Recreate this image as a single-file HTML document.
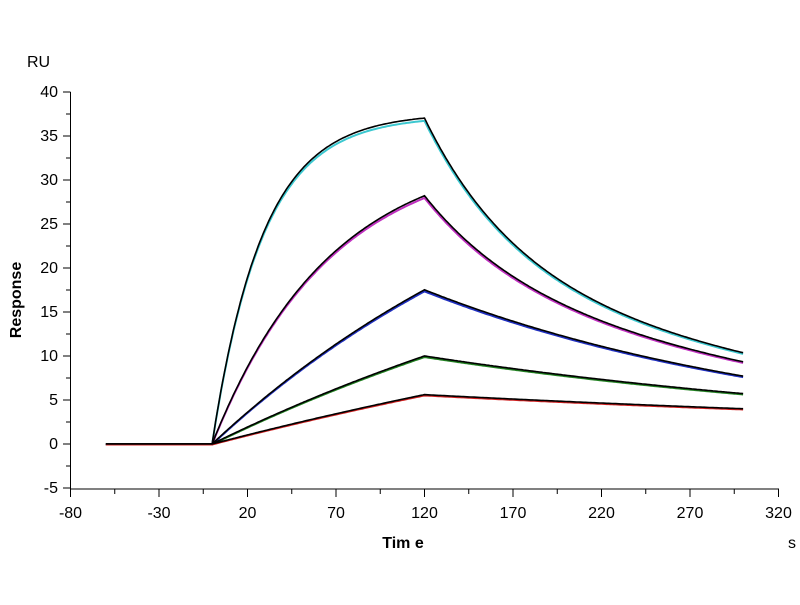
<!DOCTYPE html>
<html><head><meta charset="utf-8"><style>
body{margin:0;background:#fff}
svg{font-family:"Liberation Sans",Arial,sans-serif}
</style></head><body>
<svg id="s" width="800" height="600" xmlns="http://www.w3.org/2000/svg">
<rect width="800" height="600" fill="#fff"/>
<g id="ax" stroke="#000" stroke-width="1" fill="none"></g>
<g id="lbl" font-size="16" fill="#000"></g>
<text x="27" y="67" font-size="16">RU</text>
<text x="21" y="300" font-size="16" font-weight="bold" transform="rotate(-90 21 300)" text-anchor="middle">Response</text>
<text x="403" y="548" font-size="16" font-weight="bold" text-anchor="middle">Tim e</text>
<text x="788" y="548" font-size="16">s</text>
<g id="cur" fill="none"></g>
</svg>
<script>
var NS="http://www.w3.org/2000/svg";
function X(t){return 70.5+(t+80)*1.77;}
function Y(v){return 444-v*8.8;}
function el(p,n,a){var e=document.createElementNS(NS,n);for(var k in a)e.setAttribute(k,a[k]);p.appendChild(e);return e;}
var ax=document.getElementById('ax'),lbl=document.getElementById('lbl'),cur=document.getElementById('cur');
el(ax,'line',{x1:70.5,y1:92,x2:70.5,y2:489});
el(ax,'line',{x1:70.5,y1:489,x2:779,y2:489});
for(var v=-5;v<=40;v+=2.5){var maj=(v%5==0);el(ax,'line',{x1:maj?63:66,y1:Y(v),x2:70.5,y2:Y(v)});
 if(maj){var t=el(lbl,'text',{x:58,y:Y(v)+5,'text-anchor':'end'});t.textContent=v;}}
for(var t=-80;t<=320;t+=25){var maj=((t+80)%50==0);el(ax,'line',{x1:X(t),y1:489,x2:X(t),y2:maj?497:494});
 if(maj){var tx=el(lbl,'text',{x:X(t),y:518,'text-anchor':'middle'});tx.textContent=t;}}
var P=[[37.6,0.035,function(d,R){return R*(0.45*Math.exp(-0.02*d)+0.55*Math.exp(-0.004*d));},'#3cc8d0'],
[33.8,0.015,function(d,R){return R*(0.3*Math.exp(-0.02*d)+0.7*Math.exp(-0.0043*d));},'#c030c0'],
[42,0.0045,function(d,R){return R*Math.exp(-0.00456*d);},'#2030c0'],
[33.1,0.003,function(d,R){return R*Math.exp(-0.0031*d);},'#208020'],
[26.3,0.002,function(d,R){return R*Math.exp(-0.00187*d);},'#d02020']];
P.forEach(function(p){
 var R=p[0]*(1-Math.exp(-p[1]*120));
 function f(t){if(t<0)return 0;if(t<=120)return p[0]*(1-Math.exp(-p[1]*t));return p[2](t-120,R);}
 var dc="",db="";
 for(var t=-60;t<=300;t+=1){var v=f(t);dc+=(t==-60?"M":"L")+X(t).toFixed(1)+","+(Y(v*0.993)+0.5).toFixed(1);
  db+=(t==-60?"M":"L")+X(t).toFixed(1)+","+Y(v).toFixed(1);}
 el(cur,'path',{d:dc,stroke:p[3],'stroke-width':2});
 el(cur,'path',{d:db,stroke:'#000','stroke-width':1.6});
});
</script>
</body></html>
